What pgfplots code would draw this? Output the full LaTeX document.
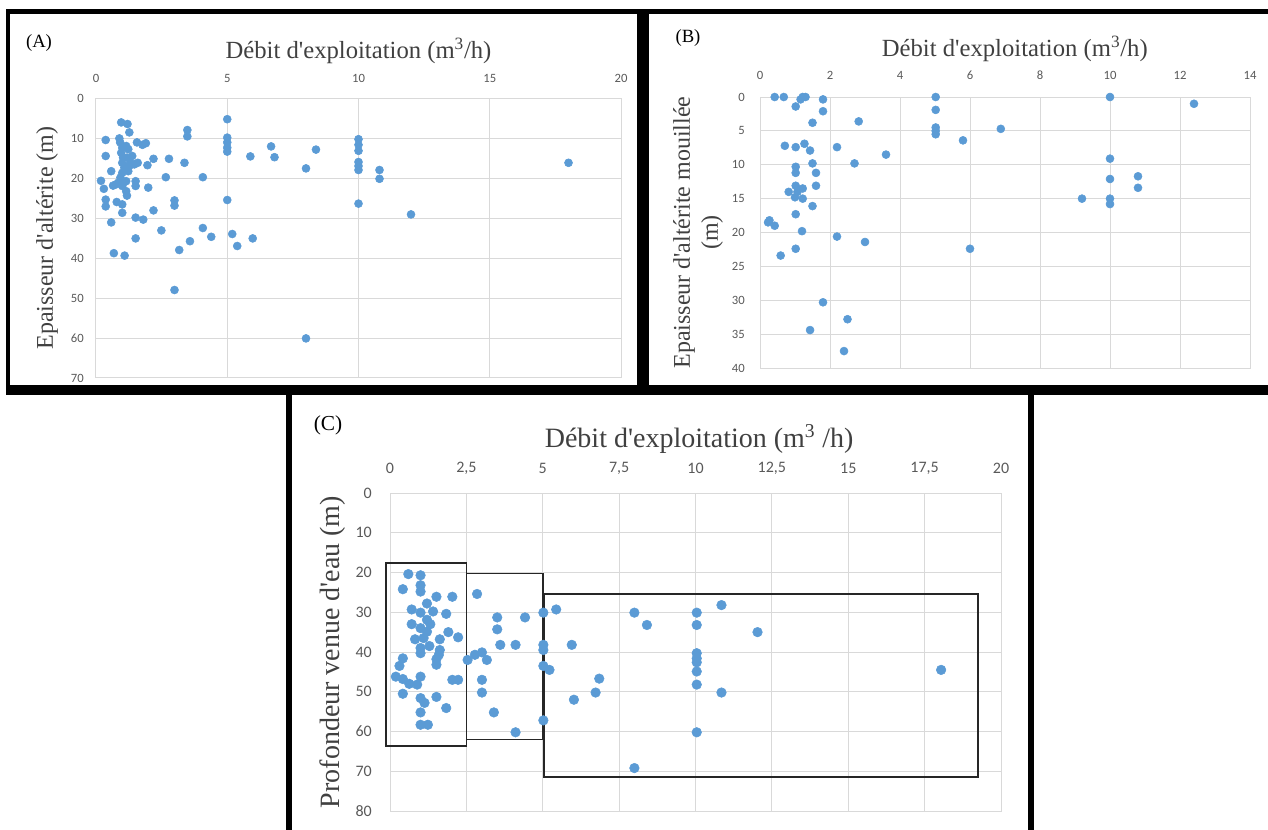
\documentclass[border=0pt]{standalone}
\usepackage{fontspec}
\setmainfont{Liberation Serif}
\newfontfamily\tickfont{Carlito}
\usepackage{pgfplots}
\pgfplotsset{compat=1.18}

\definecolor{dotblue}{HTML}{5B9BD5}
\definecolor{gridgray}{HTML}{D9D9D9}
\definecolor{ticktext}{HTML}{595959}
\definecolor{titletext}{HTML}{404040}
\newcommand\ap{\textquotesingle}

\pgfplotsset{
  excel/.style={
    scale only axis, clip=false,
    y dir=reverse,
    xticklabel pos=right,
    axis line style={draw=gridgray, line width=0.75pt},
    grid=major,
    grid style={draw=gridgray, line width=0.75pt},
    major tick length=0pt,
    /pgf/number format/assume math mode=true,
    tick label style={text=ticktext, inner sep=0pt},
    xlabel style={anchor=center, text=titletext},
    ylabel style={anchor=center, text=titletext},
  },
  dots/.style={only marks, mark=*, mark size=#1,
    mark options={draw=dotblue, fill=dotblue}},
}

\begin{document}
\begin{tikzpicture}
\useasboundingbox (0,0) rectangle (951pt,-621.75pt);

% panel frames
\draw[line width=3.4pt] (4.5pt,-8.6pt) -- (951pt,-8.6pt);
\draw[line width=3pt] (6pt,-6.75pt) -- (6pt,-294pt);
\draw[line width=9pt] (482.25pt,-6.75pt) -- (482.25pt,-294pt);
\draw[line width=7.5pt] (4.5pt,-292.5pt) -- (951pt,-292.5pt);
\draw[line width=4.5pt] (216.75pt,-292.5pt) -- (216.75pt,-630pt);
\draw[line width=4.5pt] (773.25pt,-292.5pt) -- (773.25pt,-630pt);

\node[font=\fontsize{14}{16}\selectfont] at (29.25pt,-32.25pt) {(A)};
\node[font=\fontsize{14}{16}\selectfont] at (516pt,-28.5pt) {(B)};
\node[font=\fontsize{16}{18}\selectfont] at (246pt,-318.75pt) {(C)};

% (A)
\begin{axis}[excel,
  at={(72pt,-73.5pt)}, anchor=north west,
  width=393.75pt, height=210pt,
  xmin=0, xmax=20, ymin=0, ymax=70,
  xtick={0,5,...,20}, ytick={0,10,...,70},
  tick label style={font=\tickfont\fontsize{9.5}{11}\selectfont},
  xticklabel style={anchor=center, yshift=15pt},
  yticklabel style={anchor=east, xshift=-9pt},
  xlabel={Débit d\ap exploitation (m\textsuperscript{3}/h)},
  xlabel style={at={(axis description cs:0.5,1.168)}, font=\fontsize{18.5}{22}\selectfont},
  ylabel={Epaisseur d\ap altérite (m)},
  ylabel style={at={(axis description cs:-0.0933,0.5)}, font=\fontsize{18}{21}\selectfont},
]
\addplot[dots=3pt] coordinates {
(5,5.3) (0.96,6.1) (1.2,6.5) (1.27,8.6) (3.48,8.0) (3.48,9.6) (0.37,10.5)
(0.89,10.1) (5,9.9) (5,11.1) (5,12.4) (5,13.4) (10,10.3) (10,11.7) (10,13.2)
(10,16) (10,17) (10,18) (10.8,18) (10.8,20.2) (10,26.4) (6.67,12.1) (8.38,12.9)
(5.88,14.6) (6.8,14.8) (8.0,17.6) (18.0,16.2) (12.0,29.1) (0.37,14.5) (0.58,18.3)
(0.19,20.7) (0.3,22.7) (0.37,25.4) (0.37,27.1) (0.65,21.9) (0.79,26.0) (1.0,26.6)
(1.0,28.7) (0.58,31.1) (0.68,38.8) (1.09,39.4) (1.56,11.1) (1.77,11.7) (1.9,11.3)
(1.38,14.5) (1.59,16.2) (1.46,16.6) (1.96,16.8) (2.19,15.2) (2.78,15.2) (3.37,16.2)
(2.66,19.8) (4.07,19.8) (1.51,20.8) (1.51,22.0) (1.99,22.4) (1.18,24.4) (2.19,28.1)
(1.51,29.9) (1.8,30.4) (2.49,33.1) (1.51,35.1) (2.99,25.6) (2.99,26.9) (4.07,32.5)
(4.39,34.7) (3.58,35.8) (3.17,38.0) (5.19,34.0) (5.38,37.0) (5.97,35.1) (5,25.5)
(2.99,48.0) (8,60.1)
(0.92,11.1) (1.0,12.4) (0.96,13.7) (1.03,14.9) (1.0,16.2) (1.08,17.4) (1.0,18.7)
(0.93,19.9) (1.08,21.0) (1.0,22.0) (1.15,20.8) (1.23,18.3) (1.27,17.0) (1.18,14.9)
(1.23,12.8) (1.15,12.0) (1.31,16.2) (0.84,21.2) (0.76,21.6) (1.15,23.3)
};
\end{axis}

% (B)
\begin{axis}[excel,
  at={(570pt,-72.75pt)}, anchor=north west,
  width=367.5pt, height=203.25pt,
  xmin=0, xmax=14, ymin=0, ymax=40,
  xtick={0,2,...,14}, ytick={0,5,...,40},
  tick label style={font=\tickfont\fontsize{9.5}{11}\selectfont},
  xticklabel style={anchor=center, yshift=16.5pt},
  yticklabel style={anchor=east, xshift=-11.25pt},
  xlabel={Débit d\ap exploitation (m\textsuperscript{3}/h)},
  xlabel style={at={(axis description cs:0.52,1.177)}, font=\fontsize{18.5}{22}\selectfont},
  ylabel={Epaisseur d\ap altérite mouillée\\(m)},
  ylabel style={at={(axis description cs:-0.1265,0.5)}, align=center, font=\fontsize{18}{21}\selectfont},
]
\addplot[dots=3pt] coordinates {
(0.42,0) (0.68,0) (1.16,0.35) (1.22,0) (1.3,0) (1.8,0.35) (1.02,1.4) (1.8,2.1)
(1.5,3.8) (2.82,3.6) (5.02,0) (5.02,1.9) (5.02,4.5) (5.02,5.0) (5.02,5.5)
(6.88,4.7) (5.8,6.4) (10,0) (12.4,1.0) (0.71,7.2) (1.02,7.4) (1.27,6.9)
(1.43,7.9) (2.2,7.4) (3.6,8.5) (1.5,9.8) (2.7,9.8) (1.02,10.3) (1.02,11.2)
(1.6,11.2) (1.6,13.1) (1.02,13.1) (1.22,13.5) (0.82,14.0) (1.07,14.0) (1.0,14.8)
(1.22,15.0) (1.5,16.1) (1.02,17.3) (0.27,18.2) (0.23,18.5) (0.42,19.0) (1.2,19.8)
(2.2,20.6) (3.0,21.4) (1.02,22.4) (0.59,23.4) (6.0,22.4) (10,9.1) (10,12.1)
(10.8,11.7) (10.8,13.4) (9.2,15.0) (10,15.0) (10,15.8) (1.8,30.3) (2.5,32.8)
(1.43,34.4) (2.4,37.5)
};
\end{axis}

% (C)
\begin{axis}[excel,
  at={(292.5pt,-369.75pt)}, anchor=north west,
  width=458.25pt, height=238.5pt,
  xmin=0, xmax=20, ymin=0, ymax=80,
  xtick={0,2.5,...,20}, ytick={0,10,...,80},
  /pgf/number format/.cd, use comma, fixed, /pgfplots/.cd,
  tick label style={font=\tickfont\fontsize{12}{14}\selectfont},
  xticklabel style={anchor=center, yshift=18.75pt},
  yticklabel style={anchor=east, xshift=-13.5pt},
  xlabel={Débit d\ap exploitation (m\textsuperscript{3} /h)},
  xlabel style={at={(axis description cs:0.506,1.17)}, font=\fontsize{21}{25}\selectfont},
  ylabel={Profondeur venue d\ap eau (m)},
  ylabel style={at={(axis description cs:-0.0933,0.5)}, font=\fontsize{21}{25}\selectfont},
]
\addplot[dots=3.6pt] coordinates {
(0.6,20.4) (1.0,20.7) (1.0,23.2) (1.0,24.8) (0.42,24.2) (1.52,26.1) (2.04,26.1)
(2.85,25.4) (0.71,29.3) (1.21,27.8) (1.41,29.8) (1.0,30.1) (1.84,30.4) (0.71,33.0)
(1.21,31.9) (1.32,33.0) (1.0,34.0) (1.21,34.9) (1.91,35.0) (2.23,36.3) (0.82,36.8)
(1.1,36.5) (1.63,36.8) (1.29,38.5) (1.0,40.3) (1.0,39.0) (1.63,39.5) (1.6,40.7)
(1.52,41.8) (1.52,43.2) (0.42,41.6) (0.31,43.5) (0.19,46.2) (0.42,46.8) (0.63,48.0)
(0.89,48.2) (1.0,46.2) (0.42,50.5) (1.0,51.6) (1.13,52.8) (1.0,55.2) (1.52,51.3)
(1.84,54.1) (2.04,47.0) (2.23,47.0) (1.0,58.3) (1.24,58.3) (2.54,42.0) (2.78,40.7)
(3.01,40.1) (3.17,42.0) (3.01,47.0) (3.01,50.2) (3.4,55.2) (3.51,31.3) (3.51,34.3)
(3.61,38.2) (4.11,38.2) (4.42,31.3) (4.11,60.2) (5.02,30.1) (5.02,38.2) (5.02,39.5)
(5.02,43.5) (5.22,44.5) (5.02,57.2) (5.44,29.3) (5.95,38.2) (6.85,46.7) (6.73,50.2)
(6.02,52.0) (8.0,30.1) (8.41,33.2) (8.0,69.2) (10.04,30.1) (10.04,33.2) (10.04,40.3)
(10.04,41.6) (10.04,42.6) (10.04,44.9) (10.04,48.2) (10.04,60.2) (10.85,28.2)
(10.85,50.2) (12.03,35.0) (18.04,44.5)
};
\draw[black!85, line width=1.2pt] (axis cs:-0.13,17.6) rectangle (axis cs:2.5,63.7);
\draw[black!85, line width=1.2pt] (axis cs:2.5,20.2) rectangle (axis cs:5.0,62.0);
\draw[black!85, line width=1.2pt] (axis cs:5.05,25.4) rectangle (axis cs:19.25,71.4);
\end{axis}
\end{tikzpicture}
\end{document}
